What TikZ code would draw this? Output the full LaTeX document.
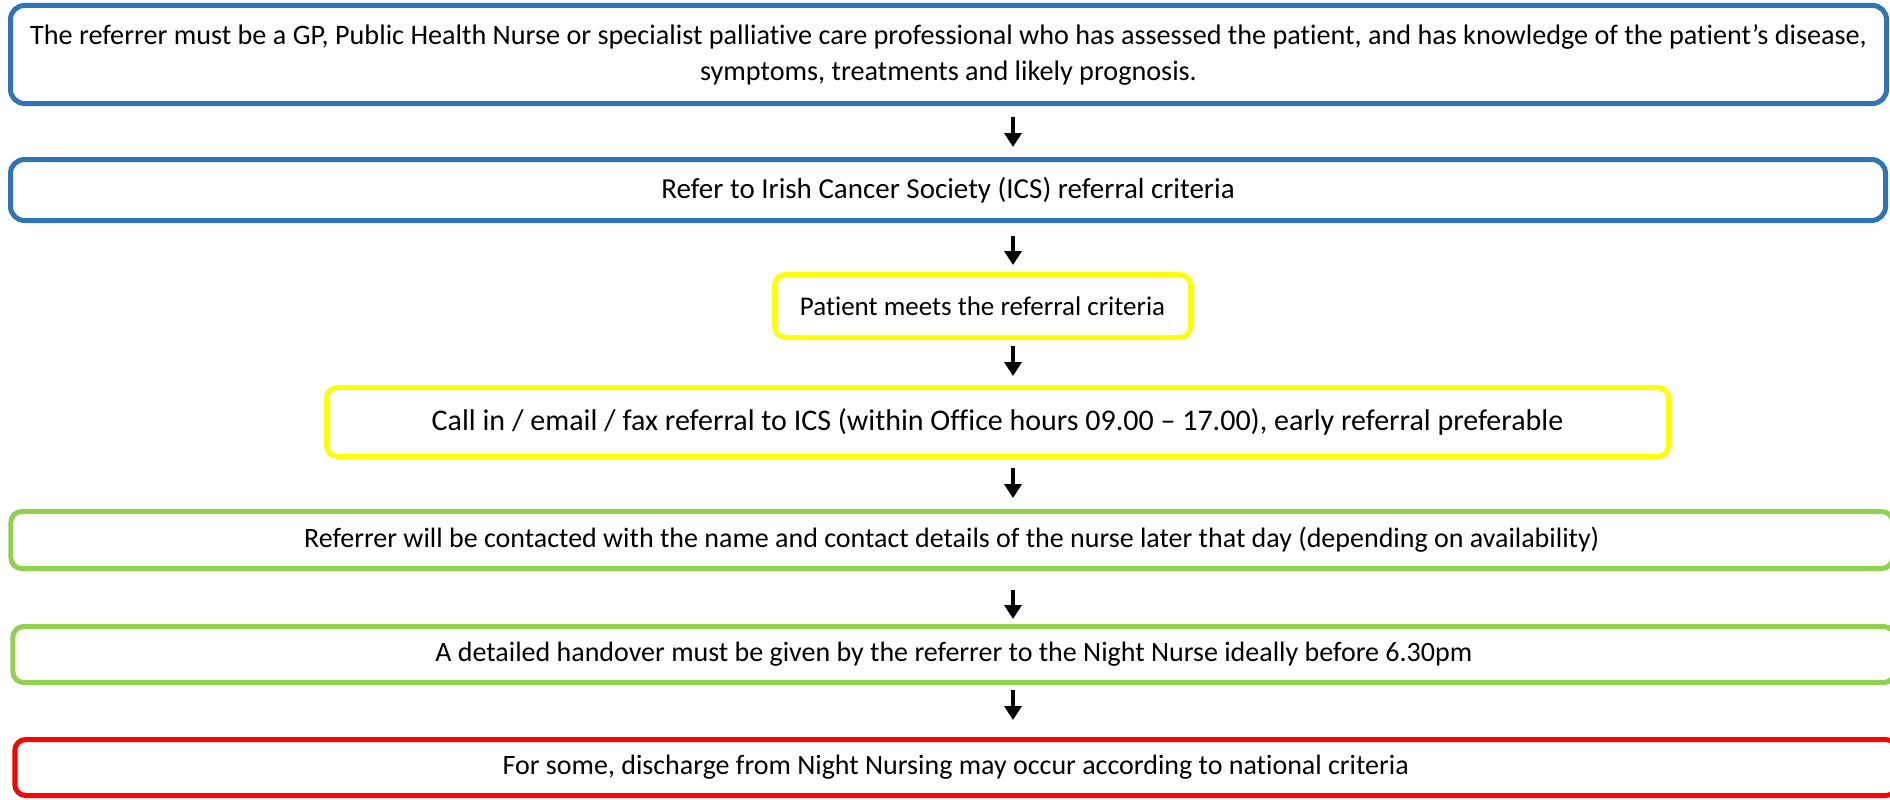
\documentclass[tikz,border=0pt]{standalone}
\usepackage{fontspec}
\setmainfont[Ligatures=NoCommon]{Carlito}
\usetikzlibrary{arrows.meta}
\definecolor{bblue}{RGB}{46,117,182}
\definecolor{byellow}{RGB}{255,255,0}
\definecolor{bgreen}{RGB}{146,208,80}
\definecolor{bred}{RGB}{255,0,0}
\begin{document}
\begin{tikzpicture}[x=1pt,y=-1pt,
  box/.style={draw, line width=5pt, rectangle, inner sep=0pt, outer sep=0pt,
    align=center, font=\fontsize{28}{36}\selectfont, text=black},
  bluebox/.style={box, draw=bblue, rounded corners=14pt},
  yellowbox/.style={box, draw=byellow, rounded corners=11pt},
  greenbox/.style={box, draw=bgreen, rounded corners=11pt},
  redbox/.style={box, draw=bred, rounded corners=11pt},
  arr/.style={line width=4pt, -{Triangle[width=17pt,length=14pt]}}]
\useasboundingbox (0,0) rectangle (1890,800);
\node[bluebox, minimum width=1876pt, minimum height=98pt, font=\fontsize{28.2}{36}\selectfont] (b1) at (948.5,54.5)
  {The referrer must be a GP, Public Health Nurse or specialist palliative care professional who has assessed the patient, and has knowledge of the patient’s disease,\\ symptoms, treatments and likely prognosis.};
\node[bluebox, minimum width=1875pt, minimum height=61pt, font=\fontsize{29}{36}\selectfont] (b2) at (948,190)
  {Refer to Irish Cancer Society (ICS) referral criteria};
\node[yellowbox, minimum width=416pt, minimum height=63pt, font=\fontsize{27}{36}\selectfont] (b3) at (982.5,306)
  {Patient meets the referral criteria};
\node[yellowbox, minimum width=1342pt, minimum height=69pt, font=\fontsize{30}{36}\selectfont] (b4) at (997.5,422)
  {Call in / email / fax referral to ICS (within Office hours 09.00 – 17.00), early referral preferable};
\node[greenbox, minimum width=1882pt, minimum height=57pt] (b5) at (951.75,540)
  {Referrer will be contacted with the name and contact details of the nurse later that day (depending on availability)};
\node[greenbox, minimum width=1882pt, minimum height=56pt] (b6) at (953.75,654.5)
  {A detailed handover must be given by the referrer to the Night Nurse ideally before 6.30pm};
\node[redbox, minimum width=1882pt, minimum height=56pt] (b7) at (955.75,767.5)
  {For some, discharge from Night Nursing may occur according to national criteria};
\coordinate (ax) at (1013,0);
\draw[arr, shorten <=13.5pt, shorten >=12.5pt] (b1.south -| ax) -- (b2.north -| ax);
\draw[arr, shorten <=15.5pt, shorten >=9.5pt] (b2.south -| ax) -- (b3.north -| ax);
\draw[arr, shorten <=8.5pt, shorten >=11.5pt] (b3.south -| ax) -- (b4.north -| ax);
\draw[arr, shorten <=11.5pt, shorten >=13.5pt] (b4.south -| ax) -- (b5.north -| ax);
\draw[arr, shorten <=21.5pt, shorten >=7.5pt] (b5.south -| ax) -- (b6.north -| ax);
\draw[arr, shorten <=7.5pt, shorten >=19.5pt] (b6.south -| ax) -- (b7.north -| ax);
\end{tikzpicture}
\end{document}
